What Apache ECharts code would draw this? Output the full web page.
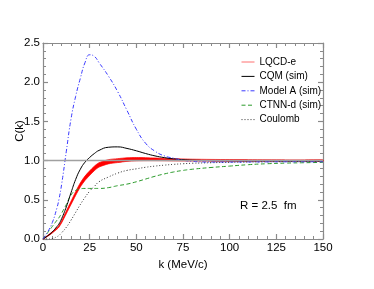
<!DOCTYPE html>
<html>
<head>
<meta charset="utf-8">
<script src="https://cdn.jsdelivr.net/npm/echarts@6/dist/echarts.min.js"></script>
<style>
html,body{margin:0;padding:0;background:#fff;}
#chart{width:374px;height:289px;}
</style>
</head>
<body>
<div id="chart"></div>
<script>
// k values (MeV/c)
var kValues = [0, 2.5, 5, 7.5, 8.5, 10, 12.5, 15, 17.5, 20, 22.5, 25, 27.5, 30, 35, 40, 45, 50, 55, 60, 65, 70, 75, 80, 90, 100, 110, 120, 130, 140, 150];
// LQCD-e band: central value and half-width
var lqcdCenter = [0, 0.04, 0.085, 0.135, 0.16, 0.22, 0.34, 0.46, 0.58, 0.69, 0.775, 0.84, 0.9, 0.945, 0.985, 1.0, 1.013, 1.018, 1.018, 1.016, 1.013, 1.01, 1.008, 1.006, 1.004, 1.003, 1.002, 1.001, 1.0, 1.0, 1.0];
var lqcdHalfWidth = [0.003, 0.006, 0.008, 0.009, 0.01, 0.013, 0.017, 0.021, 0.024, 0.026, 0.028, 0.029, 0.029, 0.028, 0.027, 0.025, 0.023, 0.021, 0.019, 0.017, 0.015, 0.014, 0.013, 0.012, 0.011, 0.01, 0.01, 0.009, 0.009, 0.009, 0.009];
var cqmSim = [0, 0.04, 0.09, 0.16, 0.19, 0.26, 0.41, 0.59, 0.76, 0.89, 0.98, 1.04, 1.09, 1.13, 1.17, 1.175, 1.155, 1.125, 1.09, 1.06, 1.038, 1.022, 1.012, 1.005, 1.0, 0.998, 0.997, 0.997, 0.996, 0.996, 0.996];
var modelASim = [0, 0.09, 0.21, 0.4, 0.5, 0.7, 1.12, 1.53, 1.82, 2.05, 2.25, 2.35, 2.33, 2.25, 2.08, 1.88, 1.64, 1.4, 1.22, 1.12, 1.06, 1.03, 1.005, 0.99, 0.982, 0.982, 0.983, 0.984, 0.985, 0.985, 0.985];
var ctnnSim = [0, 0.08, 0.16, 0.24, 0.27, 0.33, 0.44, 0.56, 0.62, 0.64, 0.645, 0.645, 0.645, 0.645, 0.655, 0.68, 0.7, 0.73, 0.765, 0.8, 0.83, 0.855, 0.875, 0.89, 0.912, 0.93, 0.948, 0.96, 0.968, 0.973, 0.977];
var coulomb = [0, 0, 0.005, 0.03, 0.045, 0.08, 0.15, 0.24, 0.34, 0.44, 0.53, 0.61, 0.67, 0.73, 0.79, 0.84, 0.875, 0.895, 0.915, 0.93, 0.942, 0.952, 0.96, 0.966, 0.973, 0.978, 0.982, 0.985, 0.987, 0.989, 0.99];
var xTicks = [0, 25, 50, 75, 100, 125, 150];
var yTicks = [0, 0.5, 1.0, 1.5, 2.0, 2.5];

function pairs(arr) { return kValues.map(function (k, i) { return [k, arr[i]]; }); }
var bandData = kValues.map(function (k, i) {
  return [k, lqcdCenter[i] - lqcdHalfWidth[i], lqcdCenter[i] + lqcdHalfWidth[i]];
});

var FONT = '"Liberation Sans", Arial, Helvetica, sans-serif';
var axisGray = '#8a8a8a';

function xAxisDef(pos, showLabel) {
  return {
    type: 'value', position: pos, min: xTicks[0], max: xTicks[xTicks.length - 1], interval: 25,
    name: showLabel ? 'k (MeV/c)' : '', nameLocation: 'middle', nameGap: 15,
    nameTextStyle: { color: '#000', fontFamily: FONT, fontSize: 11.5 },
    axisLine: { show: true, onZero: false, lineStyle: { color: axisGray, width: 1.2 } },
    axisTick: { show: true, inside: true, length: 5, lineStyle: { color: axisGray, width: 1.2 } },
    minorTick: { show: true, splitNumber: 5, length: 3, lineStyle: { color: axisGray, width: 1 } },
    axisLabel: { show: showLabel, margin: 3, color: '#000', fontFamily: FONT, fontSize: 11.5 },
    splitLine: { show: false }
  };
}
function yAxisDef(pos, showLabel) {
  return {
    type: 'value', position: pos, min: yTicks[0], max: yTicks[yTicks.length - 1], interval: 0.5,
    axisLine: { show: true, onZero: false, lineStyle: { color: axisGray, width: 1.2 } },
    axisTick: { show: true, inside: true, length: 5, lineStyle: { color: axisGray, width: 1.2 } },
    minorTick: { show: true, splitNumber: 5, length: 3, lineStyle: { color: axisGray, width: 1 } },
    axisLabel: { show: showLabel, margin: 3, color: '#000', fontFamily: FONT, fontSize: 11.5,
      formatter: function (v) { return v.toFixed(1); } },
    splitLine: { show: false }
  };
}

var chart = echarts.init(document.getElementById('chart'), null, { renderer: 'canvas' });
chart.setOption({
  animation: false,
  backgroundColor: '#fff',
  grid: { left: 43, right: 51, top: 43, bottom: 50 },
  xAxis: [xAxisDef('bottom', true), xAxisDef('top', false)],
  yAxis: [yAxisDef('left', true), yAxisDef('right', false)],
  legend: {
    orient: 'vertical', left: 236, top: 52, itemWidth: 13, itemHeight: 10, itemGap: 4.4,
    itemStyle: { opacity: 0 },
    lineStyle: { width: 1 },
    textStyle: { color: '#000', fontFamily: FONT, fontSize: 10 },
    data: ['LQCD-e', 'CQM (sim)', 'Model A (sim)', 'CTNN-d (sim)', 'Coulomb']
  },
  graphic: [
    { type: 'text', left: 240, top: 200,
      style: { text: 'R = 2.5  fm', fill: '#000', font: '11.5px ' + FONT } },
    { type: 'text', x: 20, y: 131, rotation: Math.PI / 2,
      style: { text: 'C(k)', fill: '#000', font: '11.5px ' + FONT, align: 'center', verticalAlign: 'middle' } }
  ],
  series: [
    { name: 'ref', type: 'line', data: [], silent: true,
      markLine: { silent: true, symbol: 'none', label: { show: false },
        lineStyle: { color: '#a0a0a0', width: 1.3, type: 'solid' }, data: [{ yAxis: 1.0 }] } },
    { name: 'Coulomb', type: 'line', smooth: true, showSymbol: false, symbol: 'none', data: pairs(coulomb),
      lineStyle: { color: '#333', width: 1, type: [1, 2] }, itemStyle: { color: '#777' } },
    { name: 'CTNN-d (sim)', type: 'line', smooth: true, showSymbol: false, symbol: 'none', data: pairs(ctnnSim),
      lineStyle: { color: '#2a9a2a', width: 1, type: [4, 2.5] }, itemStyle: { color: '#6c6' } },
    { name: 'lqcdBand', type: 'custom', data: bandData, silent: true, z: 3,
      encode: { x: 0, y: [1, 2] },
      renderItem: function (params, api) {
        if (params.dataIndex !== 0) return null;
        var upper = [], lower = [];
        for (var i = 0; i < bandData.length; i++) {
          upper.push(api.coord([bandData[i][0], bandData[i][2]]));
          lower.push(api.coord([bandData[i][0], bandData[i][1]]));
        }
        var pts = upper.concat(lower.reverse());
        return { type: 'polygon', shape: { points: pts, smooth: 0.25 },
          style: { fill: '#ff0000', stroke: '#ff0000', lineWidth: 0.7 } };
      } },
    { name: 'LQCD-e', type: 'line', data: [], showSymbol: false, symbol: 'none',
      lineStyle: { color: '#ff7070', width: 1.2 }, itemStyle: { color: '#ff7070' } },
    { name: 'CQM (sim)', type: 'line', smooth: true, showSymbol: false, symbol: 'none', data: pairs(cqmSim), z: 4,
      lineStyle: { color: '#000', width: 1 }, itemStyle: { color: '#000' } },
    { name: 'Model A (sim)', type: 'line', smooth: true, showSymbol: false, symbol: 'none', data: pairs(modelASim), z: 4,
      lineStyle: { color: '#3a3aff', width: 1, type: [4, 2, 1, 2] }, itemStyle: { color: '#77f' } }
  ]
});
</script>
</body>
</html>
